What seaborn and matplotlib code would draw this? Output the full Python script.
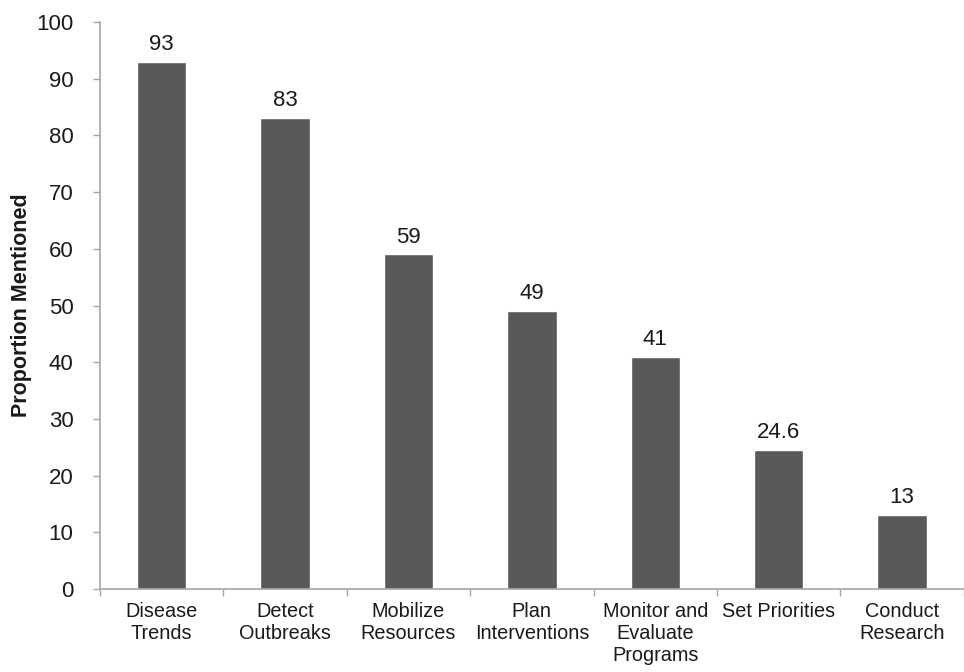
import matplotlib
matplotlib.use("Agg")
import matplotlib.pyplot as plt
import seaborn as sns
import pandas as pd
import numpy as np

categories = ["Disease\nTrends", "Detect\nOutbreaks", "Mobilize\nResources",
              "Plan\nInterventions", "Monitor and\nEvaluate\nPrograms",
              "Set Priorities", "Conduct\nResearch"]
values = [93, 83, 59, 49, 41, 24.6, 13]
y_ticks = [0, 10, 20, 30, 40, 50, 60, 70, 80, 90, 100]

sns.set_theme(style="white")
plt.rcParams["font.family"] = ["Liberation Sans", "DejaVu Sans"]

df = pd.DataFrame({"category": categories, "value": values})

fig = plt.figure(figsize=(9.64, 6.72), dpi=100)
ax = fig.add_axes([0.1037, 0.1235, 0.896, 0.8437])

sns.barplot(data=df, x="category", y="value", color="#595959",
            saturation=1, width=0.4, ax=ax)

ax.set_ylim(0, 100)
ax.set_xlim(-0.5, len(categories) - 0.5)
ax.set_yticks(y_ticks)
ax.set_yticklabels([str(t) for t in y_ticks], fontsize=16, color="#1a1a1a")

# category labels centred under bars, tick marks at category boundaries
ax.set_xticks(range(len(categories)))
ax.set_xticklabels(categories, fontsize=14.3, color="#1a1a1a", linespacing=1.2)
ax.tick_params(axis="x", which="major", length=0, pad=9)
ax.set_xticks(np.arange(-0.5, len(categories)), minor=True)
ax.tick_params(axis="x", which="minor", length=5, width=1, color="#a6a6a6",
               direction="out", bottom=True)
ax.tick_params(axis="y", which="major", length=5, width=1, color="#a6a6a6",
               direction="out", left=True, pad=14)

for side in ["top", "right"]:
    ax.spines[side].set_visible(False)
for side in ["left", "bottom"]:
    ax.spines[side].set_color("#a6a6a6")
    ax.spines[side].set_linewidth(1.2)

ax.set_xlabel("")
ax.set_ylabel("Proportion Mentioned", fontsize=15.5, fontweight="bold",
              color="#1a1a1a", labelpad=3)

ax.bar_label(ax.containers[0], labels=[f"{v:g}" for v in values],
             fontsize=16, color="#1a1a1a", padding=5)

fig.savefig("out.png", dpi=100)
